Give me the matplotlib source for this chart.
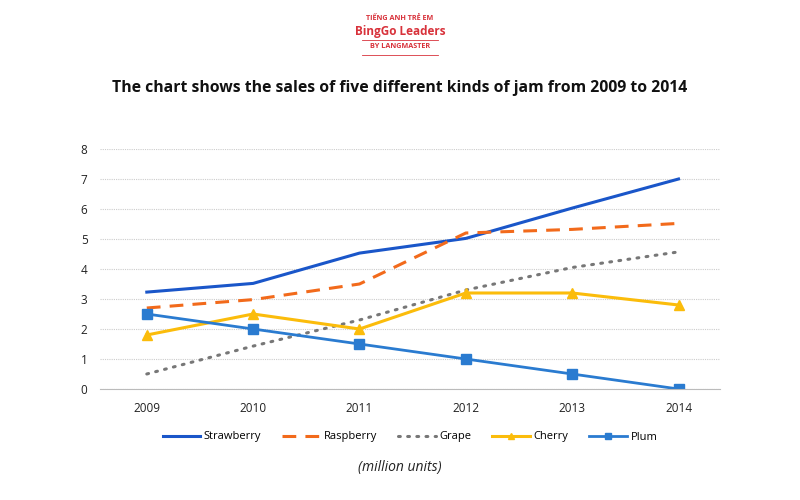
import matplotlib.pyplot as plt
from matplotlib.lines import Line2D

years = ['2009', '2010', '2011', '2012', '2013', '2014']
strawberry = [3.23, 3.52, 4.53, 5.02, 6.03, 7.0]
raspberry = [2.7, 2.98, 3.5, 5.2, 5.32, 5.52]
grape = [0.5, 1.43, 2.3, 3.3, 4.05, 4.57]
cherry = [1.8, 2.5, 2.0, 3.2, 3.2, 2.8]
plum = [2.5, 2.0, 1.5, 1.0, 0.5, 0.0]

red = '#d8323b'
plt.rcParams['font.family'] = ['Open Sans', 'DejaVu Sans']

fig = plt.figure(figsize=(8, 5), dpi=100, facecolor='white')

# logo
fig.text(0.5, 0.962, 'TIẾNG ANH TRẺ EM', ha='center', va='center',
         fontsize=5.2, fontweight='bold', color=red)
fig.text(0.5, 0.937, 'BingGo Leaders', ha='center', va='center',
         fontsize=8.5, fontweight='bold', color=red)
fig.text(0.5, 0.906, 'BY LANGMASTER', ha='center', va='center',
         fontsize=5.2, fontweight='bold', color=red)
fig.add_artist(Line2D([0.452, 0.548], [0.921, 0.921], color=red, lw=0.6))
fig.add_artist(Line2D([0.452, 0.548], [0.891, 0.891], color=red, lw=0.6))

fig.text(0.5, 0.823, 'The chart shows the sales of five different kinds of jam from 2009 to 2014',
         ha='center', va='center', fontsize=11.3, fontweight='bold', color='#111111')

ax = fig.add_axes([100 / 800, 111 / 500, 620 / 800, 240 / 500])
x = list(range(len(years)))

ax.plot(x, strawberry, color='#1a56c9', lw=2.2, label='Strawberry')
ax.plot(x, raspberry, color='#f26a1b', lw=2.2, dashes=(4.5, 3), label='Raspberry')
ax.plot(x, grape, color='#777777', lw=2.2, dashes=(0.6, 2.4), dash_capstyle='round',
        label='Grape')
ax.plot(x, cherry, color='#fbbc0b', lw=2.2, marker='^', ms=7, label='Cherry')
ax.plot(x, plum, color='#2a7bd0', lw=2.0, marker='s', ms=6.5, label='Plum')

ax.set_xlim(-0.44, 5.39)
ax.set_ylim(0, 8)
ax.set_yticks(range(9))
ax.set_xticks(x)
ax.set_xticklabels(years)
ax.tick_params(length=0, labelsize=8.5, colors='#222222')
ax.tick_params(axis='y', pad=9)
ax.tick_params(axis='x', pad=9)
for s in ['top', 'right', 'left']:
    ax.spines[s].set_visible(False)
ax.spines['bottom'].set_color('#bbbbbb')
ax.yaxis.grid(True, color='#cccccc', lw=0.8, ls=(0, (1, 1)))
ax.set_axisbelow(True)

ax.legend(loc='center', bbox_to_anchor=(0.5, -0.2), ncol=5, frameon=False,
          fontsize=8, handlelength=3.4, columnspacing=1.9, handletextpad=0.3,
          markerscale=0.6)

fig.text(0.5, 0.066, '(million units)', ha='center', va='center',
         fontsize=10, style='italic', color='#222222')

fig.savefig('out.png', dpi=100, facecolor='white')
